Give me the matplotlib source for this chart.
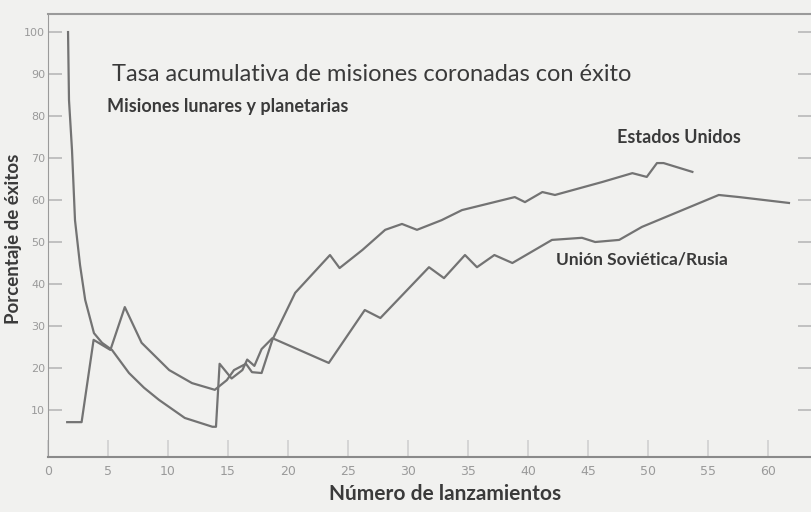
import matplotlib.pyplot as plt

# Datos (lanzamiento, % acumulado de exitos)
ee_uu_x = [1.6, 2.8, 3.8, 5.2, 6.4, 7.8, 10.1, 12.0, 13.9, 14.9, 15.5, 16.5, 17.0, 17.8,
           18.7, 20.6, 23.5, 24.3, 26.2, 28.1, 29.5, 30.75, 32.8, 34.5, 38.9, 39.75,
           41.2, 42.25, 46.2, 48.7, 49.9, 50.75, 51.3, 53.7]
ee_uu_y = [7.1, 7.1, 26.7, 24.3, 34.5, 26.0, 19.5, 16.4, 14.8, 17.1, 19.5, 21.0, 19.0, 18.8,
           26.7, 37.9, 46.9, 43.8, 48.1, 52.9, 54.3, 52.9, 55.2, 57.6, 60.7, 59.5,
           61.9, 61.2, 64.3, 66.4, 65.5, 68.8, 68.8, 66.7]

urss_x = [1.67, 1.75, 2.0, 2.25, 2.67, 3.1, 3.83, 4.5, 5.33, 6.75, 8.0, 9.25, 11.4, 13.7, 14.0,
          14.3, 15.3, 16.2, 16.6, 17.2, 17.8, 18.7, 23.4, 26.4, 27.7, 31.75, 33.0,
          34.75, 35.75, 37.2, 38.7, 42.0, 44.5, 45.6, 47.6, 49.5, 55.9, 57.6, 61.75]
urss_y = [100, 83.8, 71.9, 55.2, 44.5, 36.2, 28.3, 26.0, 24.3, 18.8, 15.3, 12.4, 8.1, 6.0, 6.0,
          21.0, 17.5, 19.5, 22.0, 20.5, 24.5, 27.1, 21.2, 33.8, 31.9, 44.0, 41.4,
          46.9, 44.0, 46.9, 45.0, 50.5, 51.0, 50.0, 50.5, 53.6, 61.2, 60.7, 59.3]

x_ticks = list(range(0, 61, 5))
y_ticks = list(range(10, 101, 10))

bg = '#f1f1ef'
line_col = '#737373'
text_col = '#3a3a3a'
tick_col = '#9a9a9a'

fig = plt.figure(figsize=(8.12, 5.12), dpi=100, facecolor=bg)
ax = fig.add_axes([48 / 812, 55 / 512, 764 / 812, 443 / 512], facecolor=bg)

ax.plot(ee_uu_x, ee_uu_y, color=line_col, linewidth=1.6)
ax.plot(urss_x, urss_y, color=line_col, linewidth=1.6)

ax.set_xlim(0, 63.67)
ax.set_ylim(-1.2, 104.3)

ax.set_xticks(x_ticks)
ax.set_yticks(y_ticks)
ax.tick_params(axis='x', direction='in', length=12, color='#d0d0d0', width=1.2,
               labelsize=9, labelcolor=tick_col, pad=6)
ax.tick_params(axis='y', direction='in', length=10, color='#b8b8b8', width=1.2,
               labelsize=8, labelcolor=tick_col, pad=2, right=True)

ax.spines['right'].set_visible(False)
ax.spines['left'].set_color('#9a9a9a')
ax.spines['bottom'].set_color('#8a8a8a')
ax.spines['top'].set_color('#9a9a9a')
ax.spines['bottom'].set_linewidth(1.5)
ax.spines['top'].set_linewidth(1.5)

font = 'Lato'
# etiquetas de los ejes colocadas a mano en la figura
fig.text(445 / 812, 1 - 494 / 512, 'Número de lanzamientos', fontsize=15, fontweight='bold',
         color=text_col, family=font, ha='center', va='center')
fig.text(14 / 812, 1 - 239 / 512, 'Porcentaje de éxitos', fontsize=13.5, fontweight='bold',
         color=text_col, family=font, ha='center', va='center', rotation=90)

ax.text(5.3, 89.8, 'Tasa acumulativa de misiones coronadas con éxito', fontsize=17,
        color=text_col, family=font, va='center')
ax.text(4.9, 82.2, 'Misiones lunares y planetarias', fontsize=13, fontweight='bold',
        color=text_col, family=font, va='center')
ax.text(52.6, 74.8, 'Estados Unidos', fontsize=13, fontweight='bold', color=text_col,
        family=font, ha='center', va='center')
ax.text(49.5, 45.9, 'Unión Soviética/Rusia', fontsize=12.5, fontweight='bold',
        color=text_col, family=font, ha='center', va='center')

fig.savefig('out.png', dpi=100, facecolor=bg)
